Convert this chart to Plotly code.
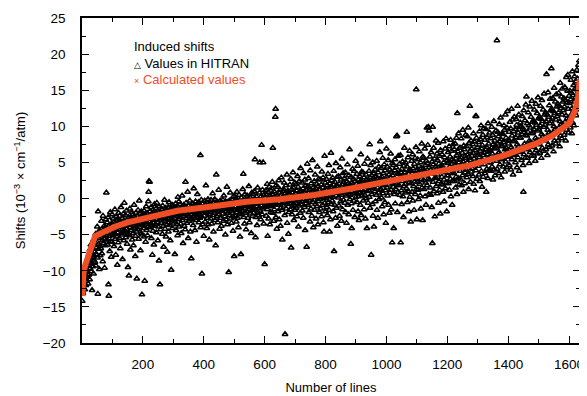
import plotly.graph_objects as go

# Calculated values (sorted curve), key points
calc_line = [1, 2, 3, 5, 10, 21, 30, 43, 65, 108, 150, 216, 314, 427, 540, 650, 763,
             872, 981, 1089, 1198, 1274, 1382, 1491, 1545, 1600, 1621, 1630, 1635]
calc_vals = [-13.5, -12.2, -11.0, -10.3, -9.3, -8.1, -6.9, -5.2, -4.75, -3.9, -3.3, -2.6,
             -1.7, -1.1, -0.45, -0.1, 0.5, 1.3, 2.15, 3.0, 3.8, 4.6, 5.9, 7.6, 8.7, 10.4,
             12.3, 14.0, 16.5]

# HITRAN values, one per line (line number = position in list)
hitran_vals = [
    -14.2, -12.8, -13.1, -11.5, -12.3, -10.8, -11.9, -9.6, -12.6, -10.2, -11.1, -9.3, -12.0, -10.7, -8.9, -11.4, -9.9, -10.5, -8.4, -11.8,
    -9.2, -10.6, -7.8, -8.9, -11.2, -7.1, -9.7, -8.3, -6.4, -10.1, -9.0, -7.5, -12.7, -8.1, -6.9, -9.4, -5.8, -10.4, -7.9, -8.6,
    -7.4, -5.6, -8.8, -6.1, -4.9, -9.3, -6.8, -7.7, -5.2, -3.9, -8.2, -13.2, -1.8, -6.3, -7.0, -5.5, -9.8, -4.4, -6.6, -7.9,
    -4.6, -6.9, -5.3, -3.1, -7.6, -4.2, -5.8, -8.7, -2.4, -5.0, -6.2, -4.7, -3.8, -9.6, -5.6, -4.0, -6.5, -2.9, -5.1, 0.8,
    -4.1, -5.7, -3.3, -6.4, -4.8, -2.6, -11.9, -13.5, -5.2, -3.7, -7.3, -4.4, -1.9, -5.9, -4.0, -8.1, -3.5, -6.0, -2.2, -4.9,
    -3.6, -5.1, -2.8, -4.5, -6.6, -3.2, -4.9, -1.5, -5.6, -3.9, -7.8, -4.2, -2.5, -5.3, -3.0, -9.2, -4.7, -3.4, -6.1, -2.0,
    -4.3, -3.1, -5.5, -2.4, -4.0, -6.9, -3.6, -1.2, -4.8, -3.3, -5.0, -2.7, -8.4, -3.9, -4.6, -2.1, -5.8, -3.5, -0.6, -4.4,
    -3.2, -4.7, -2.3, -5.4, -3.8, -1.7, -4.2, -6.3, -2.9, -3.6, -9.5, -4.9, -2.6, -10.7, -3.1, -5.1, -1.4, -4.0, -7.1, -3.4,
    -2.8, -4.4, -3.5, -1.9, -5.7, -3.0, -2.2, -4.8, -6.5, -3.7, -0.9, -4.1, -2.5, -3.3, -8.0, -5.2, -2.0, -3.9, -4.6, -11.1,
    -3.1, -2.4, -4.3, -1.6, -3.7, -5.6, -2.9, -0.3, -4.0, -2.1, -3.4, -7.2, -2.7, -4.8, -1.8, -3.2, -13.3, -5.0, -2.3, -3.6,
    -2.5, -4.1, -3.0, -1.7, -5.3, -11.4, -2.2, -3.6, -6.0, -2.9, -1.1, -4.4, -3.3, -2.0, -5.1, -2.6, -3.9, -0.4, 0.9, 2.4,
    -3.2, 2.3, -1.8, -4.0, -2.4, -3.5, -1.2, -5.5, -2.8, -3.7, -7.8, -2.1, -4.5, -1.5, -3.0, -6.4, -2.5, -0.8, -3.8, -2.2,
    -2.0, -3.6, -1.4, -4.7, -2.9, -0.6, -3.3, -2.2, -5.8, -1.7, -3.9, -2.6, -8.6, -1.1, -3.0, -11.9, -2.4, -4.3, -1.9, -2.8,
    -3.4, -1.5, -2.7, -4.9, -1.0, -2.3, -3.8, -6.7, -1.8, -2.6, -0.2, -3.1, -4.2, -2.0, -1.3, -5.3, -2.9, -3.6, -1.6, -7.4,
    -2.1, -3.3, -1.2, -4.6, -2.7, -0.5, -1.9, -3.7, -2.4, -5.8, -1.4, -2.9, -9.9, -1.7, -3.0, -0.9, -4.1, -2.2, -1.0, -3.5,
    -2.3, -1.1, -3.2, -1.6, -7.7, -2.8, -0.7, -1.9, -4.4, -2.5, -1.3, -3.6, -2.0, -5.1, 0.2, -1.7, -2.9, -0.4, -3.9, -2.2,
    -1.4, -2.6, -0.8, -3.5, -1.9, -4.8, -1.2, -2.2, 0.4, -3.0, -1.7, -6.2, -2.4, -0.9, -1.5, -3.8, -2.0, -1.1, -4.3, 2.3,
    -1.8, -0.6, -2.7, -1.3, -3.4, -2.1, 0.9, -1.6, -5.5, -2.4, -1.0, -3.1, -1.9, -0.3, -2.8, -4.6, -1.4, -2.2, -8.3, -1.1,
    -1.5, -2.9, -0.7, -1.9, -3.7, -1.2, 1.4, -2.4, -0.9, -1.7, -4.4, -2.1, -0.4, -3.0, -1.4, -6.0, -2.3, -1.0, 0.6, -2.6,
    -1.3, -2.2, -0.5, -3.3, -1.6, -0.9, -2.7, -1.1, 6.0, -4.0, -1.8, -0.2, -2.5, -10.4, -1.4, -3.6, -0.7, -2.0, -1.2, -5.2,
    -1.1, -2.4, -0.3, -1.7, -3.2, -0.8, 1.8, -2.0, -1.3, -4.1, -0.6, -2.7, -1.5, -0.1, -3.6, -1.9, -0.9, -5.7, -2.2, -1.4,
    -0.7, -1.9, -2.8, -0.2, -1.3, -3.5, -0.9, -1.6, 0.7, -2.3, -1.1, -4.6, -0.5, -2.0, -1.4, -0.1, -3.0, -1.7, -6.5, -0.8,
    3.3, -1.2, -0.4, -2.5, -1.0, -3.3, -0.6, -1.8, 1.2, -2.2, -0.9, -4.2, -1.4, -0.3, -2.7, -1.1, -0.5, -3.8, -1.6, -0.8,
    -0.9, -2.1, -0.2, -1.5, -3.1, 0.4, -1.2, -0.6, -2.5, -1.0, -5.0, -0.4, -1.8, -2.9, -0.7, 1.6, -1.3, -3.6, -0.5, -2.0,
    -0.8, -10.2, -1.5, -0.3, -2.3, -1.0, 0.8, -2.8, -0.5, -1.7, -3.4, -0.1, -1.2, -2.0, -0.7, -4.5, -1.4, 0.3, -2.6, -8.0,
    -0.4, -1.6, -2.4, 0.2, -1.1, -0.7, -3.2, -1.9, 0.9, -0.3, -2.7, -1.3, -0.6, -4.0, -1.5, 0.5, -2.1, -0.9, -5.3, -1.2,
    -0.6, -7.7, -1.4, 0.1, -2.2, -0.8, -1.7, 1.3, -0.3, 3.4, -2.6, -1.0, -0.5, -3.5, 0.6, -1.3, -2.0, -0.2, -4.3, -0.9,
    -0.5, -1.8, 0.4, -1.1, -2.7, -0.2, -0.9, 1.7, -1.5, -3.3, -0.6, 0.2, -2.1, -1.2, -0.4, -4.8, -1.6, 0.8, -0.7, -2.4,
    -0.3, -1.4, 0.6, -2.0, -0.8, 1.0, -1.6, 5.4, -0.1, -5.4, -2.6, -0.5, 0.3, -1.1, -3.7, -0.4, 1.5, -1.9, -0.7, -2.3,
    -0.2, -1.3, 0.8, 5.0, -1.7, -0.5, -2.9, 0.3, -1.0, 7.4, -0.6, -2.2, 1.2, -1.4, 5.0, -0.3, -3.5, 0.5, -1.1, -9.1,
    0.2, -1.2, 1.1, -0.6, -2.4, 0.5, -0.3, 2.0, -1.5, -5.2, -0.8, 0.9, -2.8, -0.1, 1.6, -1.0, -3.6, 0.4, -0.5, -1.9,
    0.0, -1.1, 1.4, -0.7, 2.3, -2.0, 7.0, 0.6, -0.4, -3.1, 1.0, -1.5, 0.3, -0.9, 11.3, 12.4, -2.6, 1.8, -0.2, -4.2,
    0.4, -0.9, 1.6, -1.8, 0.1, 2.5, -0.6, -2.9, 0.8, -0.2, 1.2, -3.8, -1.3, 0.5, 2.9, -0.7, -1.6, -5.7, 0.2, 1.0,
    0.1, 1.3, -1.0, 2.2, -0.5, -2.3, -18.8, 0.7, -0.3, 1.8, -1.4, 0.4, 3.3, -3.4, -0.8, 1.1, -0.1, -4.9, 0.9, -1.9,
    0.6, -0.7, 1.9, -1.5, 0.2, 2.7, -6.8, -0.4, 1.3, -2.2, 0.8, -1.1, 3.6, -0.2, 1.5, -3.0, 0.3, -0.9, 2.2, -1.6,
    0.7, -0.6, 2.0, -1.3, 1.1, -2.5, 0.3, 3.1, -0.3, 1.6, -3.9, 0.5, -1.0, 2.4, -0.1, 1.0, -2.0, 4.2, 0.2, -0.8,
    0.9, -0.4, 2.2, -1.7, 0.5, 1.4, -2.7, 3.5, -0.1, 0.8, -1.2, 2.6, -4.4, 0.3, 1.8, -0.7, -0.2, -6.7, 1.2, 4.8,
    0.4, 1.7, -0.9, 2.8, -1.9, 0.8, -0.3, 1.3, -3.2, 3.9, 0.1, -1.4, 2.1, 0.6, -2.4, 1.0, 5.3, -0.5, 1.5, -4.0,
    1.0, -0.2, 2.4, -1.6, 0.6, 3.3, -0.8, 1.4, -2.8, 0.3, 2.0, -1.1, 4.4, 0.9, -3.6, 1.7, -0.4, 2.7, 0.1, -1.9,
    1.2, -0.1, 2.6, -1.4, 0.7, 1.9, -2.5, 3.7, 0.4, -0.9, 1.5, 2.9, -3.3, 0.2, -4.6, 1.1, 5.9, -0.6, 2.2, -1.8,
    1.3, 0.0, 2.7, -1.2, 1.8, -2.3, 0.5, 3.4, -0.5, 1.0, 4.6, -1.6, -4.6, 2.1, 0.3, -2.9, 1.6, 6.3, -0.8, 2.5,
    1.5, -0.3, 2.9, 0.2, -1.8, 1.9, 3.8, -7.3, 0.8, -0.9, 2.3, 1.2, -2.7, 4.9, 0.4, -1.3, 1.7, 3.0, -3.8, 0.9,
    1.6, 0.1, 3.1, -1.0, 2.0, -2.4, 0.7, 4.3, 1.3, -0.4, 2.6, -3.1, 0.5, 5.5, 1.9, -1.5, 0.9, 3.5, -0.2, 2.3,
    1.4, 2.8, -0.6, 0.9, 3.6, -1.9, 1.8, 0.4, -3.4, 2.4, 1.1, 4.7, -0.9, 2.0, 0.6, -2.2, 3.2, 1.5, 6.8, -0.1,
    1.9, 0.5, -6.3, 3.0, -0.7, -4.1, 2.2, 1.0, 4.1, -1.6, 1.6, 2.7, -0.3, 3.8, 0.8, -2.6, 2.4, 1.3, 5.2, 0.2,
    2.0, 0.7, 3.4, -0.5, 1.5, 4.5, -1.8, 2.6, 0.3, -3.0, 1.9, 3.1, 0.9, -0.9, 2.4, 6.1, -2.3, 1.2, 3.7, 0.4,
    2.3, 0.8, 3.6, -0.3, 1.7, 2.9, -1.5, 4.8, 0.5, 2.1, -2.8, 1.3, 3.3, 0.0, 2.6, -4.1, 1.0, 5.5, 2.0, -0.6,
    2.5, 1.1, 3.8, 0.2, 7.5, -1.3, 2.9, 4.6, 1.6, -7.8, 3.2, 0.6, 2.2, -0.8, 5.0, -2.4, 1.4, 3.5, -3.9, 2.7,
    2.6, 1.0, 4.0, -0.4, 2.1, 3.1, 0.5, 5.2, -1.6, 2.8, 1.5, -2.7, 3.6, 0.8, 4.4, -0.1, 2.3, 6.4, 1.2, 7.9,
    2.8, 1.3, 4.2, 0.1, 3.0, -1.1, 2.0, 5.6, 0.7, 3.5, -2.2, 1.8, 4.7, 2.4, -0.5, 3.9, 1.1, -3.4, 2.6, 6.9,
    3.0, 1.5, 4.4, 0.4, 2.5, 5.3, -0.9, 3.3, 1.9, -2.0, 4.0, 0.8, 2.9, 6.2, 1.2, -1.5, 3.7, 2.2, -6.1, 4.9,
    3.2, 1.6, 4.6, -4.1, 2.7, 0.6, 3.9, 5.4, -0.7, 2.2, 1.3, 4.3, 8.6, 2.0, 8.7, -1.9, 3.5, 0.9, 5.9, 2.6,
    3.4, 1.8, 4.8, 0.5, 2.9, 6.0, -6.1, 3.6, 1.1, -0.8, 4.1, 2.4, 5.1, 0.3, 3.1, -2.6, 4.5, 1.7, 7.0, 2.8,
    3.6, 2.0, 5.0, 0.8, 3.1, 1.4, 9.2, 4.4, -0.5, 2.6, 5.7, 1.0, 3.8, -1.8, 2.3, 6.6, 0.2, 4.0, 3.0, -3.2,
    3.8, 2.1, 5.2, 0.9, 3.5, 6.1, -0.3, 4.2, 1.7, 2.9, -1.6, 4.8, 2.4, 5.6, 0.6, 3.4, 7.1, 15.1, 1.3, -2.9,
    3.9, 2.3, 5.4, 1.2, 3.7, -0.1, 4.5, 6.5, 2.0, 3.1, 0.4, 5.0, -1.4, 2.7, 4.2, 7.6, 1.5, 3.3, -3.0, 5.8,
    4.1, 2.5, 5.6, 1.3, 3.9, 6.9, 0.3, 4.6, 2.2, -0.9, 5.2, 3.2, 9.8, 1.8, 4.9, 7.4, 2.7, 9.9, 0.6, 9.4,
    4.3, 2.6, 5.8, 1.5, 4.0, 0.5, 6.4, 3.4, -1.2, 5.1, -6.2, 9.9, 2.3, 4.7, 7.0, 1.0, 3.6, 5.5, -2.5, 2.9,
    4.4, 2.8, 8.0, 1.7, 4.1, 6.2, 0.7, 5.3, 3.3, 7.7, -0.6, 4.8, 2.4, 5.9, 1.2, 3.7, -2.1, 6.7, 4.2, 2.0,
    4.6, 3.0, 6.1, 1.9, 4.3, 0.9, 7.9, 5.0, 2.6, -0.4, 5.7, 3.6, 6.9, 1.4, 4.0, 8.3, 2.2, -1.8, 5.3, 3.2,
    4.9, 3.2, 6.4, 2.1, 5.1, 7.2, 1.2, 4.4, 5.8, 2.7, 8.1, 0.3, 4.8, 6.6, 3.5, -0.9, 5.4, 2.4, 7.5, 4.0,
    5.2, 3.5, 6.8, 2.4, 4.6, 7.6, 1.5, 5.5, 3.0, 8.4, 6.0, 0.6, 11.8, 4.2, 6.5, 2.8, 9.0, 5.0, 1.9, 7.0,
    5.4, 3.8, 7.0, 2.6, 5.7, 8.3, 1.8, 4.8, 6.3, 3.2, 9.5, 5.1, 0.9, 7.3, 4.3, 6.8, 2.1, 5.9, 3.6, 8.8,
    5.6, 4.0, 7.2, 2.9, 5.0, 8.6, 6.1, 3.4, 9.8, 1.3, 5.8, 7.7, 4.5, 12.8, 6.6, 2.3, 5.3, 8.0, 3.7, 6.9,
    5.9, 4.2, 7.5, 3.1, 6.3, 9.0, 2.0, 5.5, 7.9, 4.6, 1.1, 6.7, 11.4, 3.9, 11.4, 8.4, 5.1, 2.7, 7.1, 6.0,
    6.2, 4.5, 7.8, 3.3, 5.7, 9.3, 2.4, 6.6, 8.2, 4.9, 10.1, 3.8, 6.9, 1.6, 7.4, 5.3, 8.8, 3.0, 6.0, 9.7,
    6.4, 4.7, 8.1, 3.5, 6.8, 5.2, 9.6, 0.9, 7.1, 4.1, 8.5, 6.1, 2.8, 10.4, 5.6, 7.6, 3.9, 6.5, 9.1, 5.0,
    6.7, 5.0, 8.3, 3.8, 7.0, 9.9, 4.4, 6.2, 8.8, 2.6, 7.5, 5.5, 10.7, 4.0, 6.9, 8.0, 3.2, 7.3, 5.8, 9.4,
    7.0, 5.2, 21.9, 4.1, 7.6, 9.2, 5.7, 8.6, 3.5, 6.4, 10.3, 7.9, 4.7, 6.1, 11.2, 8.2, 2.9, 7.2, 5.4, 9.0,
    7.3, 5.5, 8.9, 4.4, 7.8, 10.1, 6.0, 9.5, 3.7, 6.8, 11.6, 5.1, 8.4, 7.0, 4.3, 9.8, 6.5, 12.1, 5.8, 8.1,
    7.6, 5.8, 9.2, 4.6, 8.0, 10.6, 6.3, 9.7, 4.0, 7.1, 12.4, 5.4, 8.7, 6.7, 10.9, 3.3, 7.9, 9.3, 6.0, 11.3,
    8.0, 6.1, 9.6, 5.0, 8.5, 11.0, 6.6, 10.2, 4.3, 7.5, 12.8, 5.7, 9.1, 7.2, 11.6, 3.8, 8.4, 9.9, 6.4, 10.5,
    8.4, 6.5, 10.0, 5.3, 8.9, 11.4, 7.0, 9.6, 4.6, 0.9, 12.2, 6.1, 9.5, 7.6, 10.8, 5.6, 8.8, 13.0, 7.3, 14.1,
    8.7, 6.8, 10.4, 5.6, 9.2, 11.9, 7.3, 10.1, 4.9, 8.0, 12.7, 6.4, 9.8, 7.8, 11.3, 5.9, 9.0, 13.5, 7.6, 10.6,
    9.1, 7.1, 10.8, 5.9, 9.6, 12.3, 7.7, 10.5, 5.2, 8.4, 13.1, 6.7, 10.2, 8.1, 11.8, 6.2, 9.4, 14.0, 8.0, 11.1,
    9.6, 7.5, 11.3, 6.3, 10.1, 12.8, 8.1, 11.0, 5.6, 8.9, 13.6, 7.0, 10.7, 8.6, 12.3, 6.6, 9.9, 14.5, 8.4, 11.6,
    10.2, 8.0, 11.9, 6.8, 10.7, 17.2, 8.6, 11.6, 6.0, 9.5, 14.7, 7.5, 11.3, 9.1, 12.9, 7.1, 10.4, 13.8, 8.9, 12.2,
    10.7, 18.0, 12.4, 7.3, 11.2, 13.9, 9.1, 12.1, 6.5, 10.0, 15.3, 8.0, 11.8, 9.6, 13.4, 7.6, 10.9, 14.4, 9.4, 12.7,
    11.4, 9.2, 13.1, 8.0, 11.9, 14.6, 9.8, 12.8, 7.2, 10.7, 16.0, 8.7, 12.5, 10.3, 14.1, 8.3, 11.6, 15.2, 10.1, 13.4,
    12.2, 10.0, 13.9, 8.8, 12.7, 15.4, 10.6, 13.6, 8.0, 11.5, 16.8, 9.5, 13.3, 11.1, 14.9, 17.1, 12.4, 9.1, 10.9, 14.2,
    13.2, 11.0, 14.9, 9.8, 13.7, 16.4, 11.6, 14.6, 9.0, 12.5, 17.6, 10.5, 14.3, 12.1, 15.7, 10.1, 13.4, 16.9, 11.9, 15.2,
    14.0, 12.3, 16.2, 11.5, 15.1, 17.8, 13.2, 16.6, 12.7, 14.8, 18.5, 13.8, 16.0, 19.1, 15.5,
]
hitran_lines = list(range(1, len(hitran_vals) + 1))

x_tick_vals = [200, 400, 600, 800, 1000, 1200, 1400, 1600]
y_tick_vals = [-20, -15, -10, -5, 0, 5, 10, 15, 20, 25]

legend_title = "Induced shifts"
legend_hitran = "Values in HITRAN"
legend_calc = "Calculated values"

RED = "#F04F26"
FONT = "Liberation Sans, Arial, sans-serif"

fig = go.Figure()
fig.add_trace(go.Scatter(
    x=hitran_lines, y=hitran_vals, mode="markers",
    marker=dict(symbol="triangle-up-open", size=5, color="black", line=dict(width=1.5, color="black")),
    showlegend=False, name=legend_hitran,
))
fig.add_trace(go.Scatter(
    x=calc_line, y=calc_vals, mode="lines",
    line=dict(color=RED, width=6),
    showlegend=False, name=legend_calc,
))

axis_common = dict(
    showline=True, linecolor="black", linewidth=1.5, mirror="ticks",
    ticks="inside", ticklen=7, tickwidth=1.2, tickcolor="black",
    showgrid=False, zeroline=False,
    tickfont=dict(family=FONT, size=13.5, color="black"),
)

fig.update_xaxes(
    range=[0, 1636], tickvals=x_tick_vals, ticktext=[str(v) for v in x_tick_vals],
    minor=dict(dtick=100, tick0=0, ticks="inside", ticklen=4, tickcolor="black", tickwidth=1),
    title=dict(text="Number of lines", font=dict(family=FONT, size=13, color="black"), standoff=12),
    ticklabelstandoff=8,
    **axis_common,
)
fig.update_yaxes(
    range=[-20, 25], tickvals=y_tick_vals,
    minor=dict(dtick=2.5, tick0=0, ticks="inside", ticklen=4, tickcolor="black", tickwidth=1),
    title=dict(text="Shifts (10<sup>−3</sup> × cm<sup>−1</sup>/atm)",
               font=dict(family=FONT, size=13, color="black"), standoff=14),
    ticklabelstandoff=12,
    **axis_common,
)

ann_font = dict(family=FONT, size=13, color="black")
fig.add_annotation(xref="paper", yref="paper", x=0.101, y=0.912, xanchor="left", yanchor="middle",
                   text=legend_title, showarrow=False, font=ann_font)
fig.add_annotation(xref="paper", yref="paper", x=0.101, y=0.861, xanchor="left", yanchor="middle",
                   text="<span style='font-size:9px'>△</span> " + legend_hitran, showarrow=False, font=ann_font)
fig.add_annotation(xref="paper", yref="paper", x=0.101, y=0.812, xanchor="left", yanchor="middle",
                   text="<span style='font-size:9px'>×</span> " + legend_calc, showarrow=False,
                   font=dict(family=FONT, size=13, color=RED))

# the page body adds an 8px margin, so the figure is sized to fit the window
fig.update_layout(
    width=579, height=388,
    margin=dict(l=74, r=3, t=9, b=49),
    plot_bgcolor="white", paper_bgcolor="white",
    font=dict(family=FONT, size=13, color="black"),
)

fig.write_html("out.html")
